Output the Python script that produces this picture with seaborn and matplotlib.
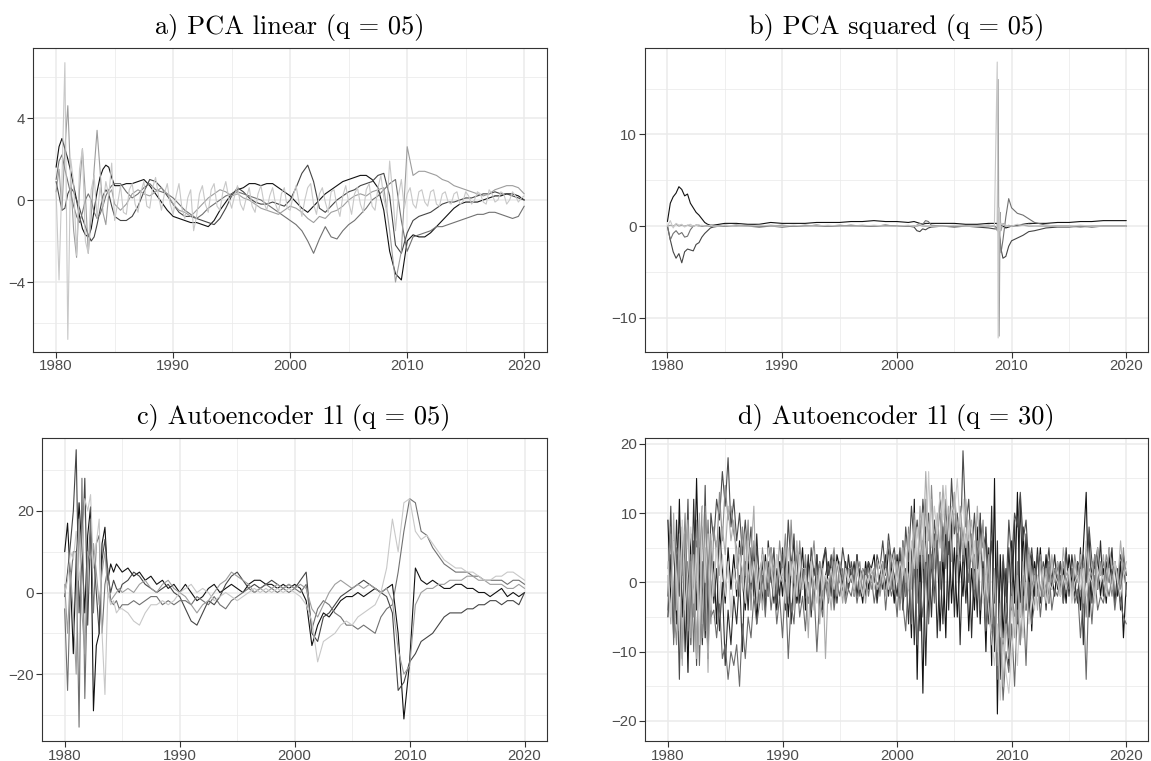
import numpy as np
import pandas as pd
import seaborn as sns
import matplotlib.pyplot as plt

# ===============================
# data
# early part: quarterly 1980-1985, late part: half-yearly 1985.5-2020
# ===============================

# a) PCA linear
a1_early = [1.6, 2.6, 3.0, 2.5, 2.0, 1.4, 0.7, 0.0, -0.8, -1.4, -1.7, -1.8, -1.4, -0.5, 0.4, 1.1, 1.5, 1.7, 1.6, 1.1, 0.7]
a1_late = [0.7, 0.8, 0.8, 0.9, 1.0, 0.7, 0.3, -0.1, -0.5, -0.8,
           -0.9, -1.0, -1.1, -1.1, -1.2, -1.3, -1.0, -0.5, -0.1, 0.3,
           0.5, 0.6, 0.8, 0.8, 0.7, 0.8, 0.8, 0.6, 0.4, 0.2,
           -0.1, -0.4, -0.6, -0.3, 0.0, 0.3, 0.5, 0.7, 0.9, 1.0,
           1.1, 1.2, 1.2, 1.0, 0.6, -0.5, -2.5, -3.6, -3.9, -2.0,
           -1.7, -1.8, -1.8, -1.6, -1.3, -1.0, -0.7, -0.4, -0.2, -0.1,
           -0.1, -0.1, 0.0, 0.1, 0.2, 0.2, 0.3, 0.3, 0.2, 0.0]
a2_early = [0.9, 0.2, -0.5, -0.4, 0.3, 0.6, 0.4, 0.0, -0.4, -0.9, -1.3, -1.7, -2.0, -1.8, -1.2, -0.5, 0.2, 0.5, 0.3, -0.3, -0.8]
a2_late = [-1.0, -1.0, -0.8, -0.3, 0.4, 1.0, 0.9, 0.6, 0.2, -0.2,
           -0.6, -0.8, -0.8, -0.9, -1.0, -1.1, -1.2, -0.9, -0.4, 0.2,
           0.6, 0.4, 0.1, -0.1, -0.2, -0.2, -0.1, -0.2, -0.3, 0.0,
           0.6, 1.3, 1.7, 0.9, -0.4, -0.6, -0.3, 0.0, 0.2, 0.4,
           0.5, 0.7, 0.8, 0.9, 1.2, 1.3, 0.2, -2.2, -2.6, -1.6,
           -1.0, -0.8, -0.7, -0.6, -0.4, -0.2, -0.1, -0.1, 0.0, 0.1,
           0.1, 0.2, 0.3, 0.3, 0.4, 0.3, 0.3, 0.2, 0.1, 0.0]
a3_early = [1.0, 1.9, 2.2, 1.5, 0.9, 0.3, -0.3, -0.8, -1.1, -0.6, 0.0, 0.3, 0.0, -0.6, -0.9, -0.7, -0.3, 0.2, 0.5, 0.7, 0.8]
a3_late = [0.8, 0.4, 0.1, 0.3, 0.6, 0.8, 0.5, 0.4, 0.3, 0.1,
           -0.2, -0.5, -0.7, -0.9, -0.7, -0.4, -0.2, 0.0, 0.2, 0.3,
           0.4, 0.3, 0.2, 0.1, 0.0, -0.2, -0.4, -0.6, -0.8, -1.0,
           -1.2, -1.5, -2.0, -2.6, -1.9, -1.3, -1.8, -1.9, -1.5, -1.2,
           -1.0, -0.7, -0.4, 0.0, 0.2, 0.5, 0.8, 1.0, -1.0, -2.5,
           -1.8, -1.7, -1.6, -1.5, -1.3, -1.3, -1.2, -1.1, -1.0, -0.9,
           -0.8, -0.7, -0.7, -0.6, -0.6, -0.7, -0.8, -0.9, -0.8, -0.3]
a4_early = [0.4, 1.5, -0.5, 2.5, 4.6, 1.0, -1.5, -2.8, 0.5, 2.5, 0.3, -2.6, -0.8, 1.5, 3.4, 1.5, -0.6, -1.2, 0.3, 0.5, -0.2]
a4_late = [-0.5, -0.2, 0.3, 0.5, 0.3, 0.2, 0.4, 0.6, 0.3, -0.2,
           -0.5, -0.6, -0.8, -0.5, -0.2, 0.1, 0.3, 0.5, 0.4, 0.2,
           0.3, 0.1, 0.0, -0.2, -0.4, -0.5, -0.6, -0.7, -0.5, -0.3,
           -0.4, -0.6, -0.9, -1.1, -0.8, -0.9, -0.6, -0.5, -0.3, 0.0,
           0.2, 0.3, 0.2, 0.4, 0.5, 0.6, -1.5, -4.0, -2.5, 2.6,
           1.2, 1.4, 1.4, 1.3, 1.2, 1.0, 0.9, 0.7, 0.6, 0.5,
           0.4, 0.3, 0.2, 0.3, 0.5, 0.6, 0.7, 0.7, 0.6, 0.3]
# quarterly 1980-2020
a5_q = [0.4, -3.9, 1.0, 6.7, -6.8, 2.0, 0.8, -2.7,
        1.5, 2.5, -2.0, -2.6, 0.5, 1.2, -0.9, 0.6,
        -0.3, 0.9, 0.2, 1.8, -1.0, -0.2, 0.7, -0.6,
        -0.7, 0.5, 0.8, -0.2, -0.6, 0.4, 0.9, -0.3,
        -0.4, 0.6, 1.1, 0.2, -0.5, 0.3, 0.8, -0.2,
        -0.7, 0.2, 0.8, -0.4, -0.9, 0.1, 0.5, -1.5,
        -0.8, 0.3, 0.7, -0.2, -0.6, 0.5, 0.8, -0.3,
        -0.5, 0.4, 0.9, 0.1, -0.4, 0.2, 0.7, -0.2,
        -0.5, 0.1, 0.6, -0.3, -0.6, 0.3, 0.7, -0.1,
        -0.5, 0.2, 0.6, -0.2, -0.6, 0.3, 0.6, -0.4,
        -0.5, 0.2, 0.7, -0.1, -0.8, 0.0, 0.6, 0.8,
        -0.2, -0.7, 0.3, 0.6, -0.1, -0.6, 0.4, 0.5,
        -0.3, -0.8, 0.2, 0.7, -0.1, -0.7, 0.3, 0.6,
        -0.2, -0.6, 0.5, 0.8, -0.3, -0.5, 0.6, 1.2,
        0.1, -0.6, 1.9, 0.4, -1.5, 0.2, 1.0, -0.4,
        0.3, 0.6, -0.2, -0.4, 0.4, 0.5, -0.1, -0.3,
        0.4, 0.5, -0.2, -0.3, 0.3, 0.4, -0.1, -0.2,
        0.3, 0.4, -0.2, -0.1, 0.4, 0.2, -0.2, 0.0,
        0.4, 0.3, -0.1, -0.2, 0.5, 0.3, -0.1, 0.0,
        0.4, 0.3, -0.2, 0.0, 0.4, 0.2, -0.1, 0.1,
        0.2]

# b) PCA squared, irregular dates (dense around the 2008 spike)
b_years = ([1980.0, 1980.25, 1980.5, 1980.75, 1981.0, 1981.25, 1981.5, 1981.75, 1982.0,
            1982.25, 1982.5, 1982.75, 1983.0, 1983.25, 1983.5, 1983.75, 1984.0, 1984.5]
           + [1985, 1986, 1987, 1988, 1989, 1990, 1991, 1992, 1993, 1994, 1995, 1996,
              1997, 1998, 1999, 2000, 2001]
           + [2001.5, 2001.75, 2002.0, 2002.25, 2002.5, 2002.75, 2003.0]
           + [2004, 2005, 2006, 2007, 2008, 2008.5]
           + [2008.75, 2008.83, 2008.92, 2009.0, 2009.08, 2009.25, 2009.5, 2009.75, 2010.0]
           + [2010.5, 2011, 2011.5, 2012, 2013, 2014, 2015, 2016, 2017, 2018, 2019, 2020])
b1 = ([0.5, 2.5, 3.2, 3.6, 4.3, 4.0, 3.3, 3.5, 2.5, 2.0, 1.5, 1.2, 0.8, 0.4, 0.2, 0.1, 0.1, 0.2]
      + [0.3, 0.3, 0.2, 0.2, 0.4, 0.3, 0.3, 0.3, 0.4, 0.4, 0.4, 0.5, 0.5, 0.6, 0.5, 0.5, 0.4]
      + [0.5, 0.4, 0.3, 0.2, 0.3, 0.3, 0.3]
      + [0.3, 0.3, 0.2, 0.2, 0.3, 0.3]
      + [0.3, -0.2, 0.2, 0.3, 0.1, 0.0, -0.2, -0.1, 0.0]
      + [0.1, 0.2, 0.3, 0.3, 0.3, 0.4, 0.4, 0.5, 0.5, 0.6, 0.6, 0.6])
b2 = ([0.0, -1.5, -2.8, -3.5, -3.0, -4.0, -2.8, -2.5, -2.6, -2.7, -2.0, -1.8, -1.2, -0.8, -0.5, -0.2, -0.1, 0.0]
      + [0.0, 0.1, 0.0, -0.1, 0.0, -0.1, 0.0, 0.0, 0.1, 0.0, 0.0, 0.1, 0.0, 0.0, 0.1, 0.0, 0.0]
      + [-0.1, -0.5, -0.6, -0.3, -0.4, -0.2, -0.1]
      + [0.0, -0.1, 0.0, -0.1, -0.2, -0.3]
      + [-0.3, -0.4, -0.8, -1.5, -2.5, -3.5, -3.3, -2.2, -1.6]
      + [-1.3, -1.0, -0.6, -0.5, -0.2, -0.1, -0.1, 0.0, -0.1, 0.0, 0.0, 0.0])
b3 = ([0.0, -1.5, -0.8, -0.5, -0.9, -0.7, -1.2, -1.1, -0.4, 0.0, 0.1, 0.1, 0.0, 0.0, 0.0, 0.0, 0.0, 0.0]
      + [0.1, 0.0, 0.1, 0.0, 0.0, 0.1, 0.0, 0.1, 0.0, 0.0, 0.1, 0.0, 0.0, 0.0, 0.1, 0.0, 0.0]
      + [0.0, 0.1, 0.3, 0.2, 0.6, 0.5, 0.1]
      + [0.0, 0.0, 0.0, 0.0, 0.1, 0.0]
      + [-0.2, -0.5, -1.0, -1.8, -2.9, -1.5, 1.0, 3.0, 2.0]
      + [1.4, 1.2, 0.8, 0.4, 0.1, 0.0, 0.0, -0.1, 0.0, 0.0, 0.0, 0.0])
b4 = ([0.0, 0.1, 0.0, 0.2, 0.0, 0.1, 0.0, 0.1, 0.0, 0.0, 0.1, 0.0, 0.0, 0.0, 0.1, 0.0, 0.0, 0.0]
      + [0.0, 0.1, 0.0, 0.0, 0.1, 0.0, 0.0, 0.0, 0.1, 0.0, 0.0, 0.0, 0.1, 0.0, 0.0, 0.0, 0.0]
      + [0.0, 0.0, 0.1, 0.0, 0.0, 0.0, 0.0]
      + [0.0, 0.0, 0.0, 0.0, 0.0, 0.0]
      + [-0.5, 16.0, -12.0, 1.5, -0.5, 0.3, 0.0, 0.1, 0.0]
      + [0.0, 0.1, 0.0, 0.0, 0.0, 0.0, 0.0, 0.0, 0.0, 0.0, 0.0, 0.0])
b5 = ([0.0, 0.6, -0.2, 0.3, 0.1, 0.2, -0.1, 0.1, 0.2, 0.0, 0.1, 0.0, 0.1, 0.0, 0.0, 0.1, 0.0, 0.0]
      + [0.1, 0.0, 0.0, 0.1, 0.0, 0.0, 0.1, 0.0, 0.0, 0.1, 0.0, 0.0, 0.0, 0.1, 0.0, 0.0, 0.1]
      + [0.0, 0.1, 0.2, 0.0, 0.1, 0.0, 0.0]
      + [0.0, 0.1, 0.0, 0.0, 0.1, 0.0]
      + [17.9, -12.2, 2.0, -0.5, 0.3, 0.2, 0.1, 0.0, 0.0]
      + [0.2, 0.1, 0.2, 0.0, 0.1, 0.0, 0.0, 0.1, 0.0, 0.0, 0.0, 0.0])

# c) Autoencoder 1l (q = 05)
c1_early = [10, 17, 3, -15, 8, 22, 10, -5, 14, 21, -29, -13, -10, 12, 16, 3, 7, 5, 7, 6, 5]
c1_late = [6, 4, 5, 3, 4, 2, 3, 1, 2, 0,
           2, 0, -2, -1, 1, 2, 0, 1, 2, 1,
           0, 2, 3, 3, 2, 2, 1, 2, 1, 2,
           1, -2, -13, -8, -5, -6, -4, -2, -1, -1,
           0, -1, 0, 1, 0, 1, 2, -10, -31, -17,
           6, 3, 2, 3, 2, 1, 1, 2, 2, 1,
           1, 0, 0, -1, 0, 1, -1, 0, -1, 0]
c2_early = [-1, 5, 12, 20, 35, -5, 8, 28, -8, 15, 10, 0, -10, 8, 13, 4, 0, 3, 1, 0, 2]
c2_late = [3, 5, 4, 2, 1, 0, 1, 2, 0, -1,
           -4, -7, -8, -5, -2, -3, -1, 2, 4, 5,
           3, 1, 2, 1, 2, 3, 2, 1, 2, 1,
           3, 5, -10, -12, -6, -5, -3, -1, 0, 1,
           2, 3, 2, 1, 0, -1, -5, -24, -22, -17,
           -15, -12, -11, -10, -8, -6, -5, -5, -5, -4,
           -4, -3, -3, -2, -2, -3, -2, -2, -3, 0]
c3_early = [-4, -24, 2, 10, 10, -33, 28, -26, 5, 18, -5, 12, 14, -10, 2, 6, -2, -3, -2, -4, -3]
c3_late = [-3, -2, -3, -2, -1, -1, -3, -2, -3, -2,
           -2, -3, -1, -2, -3, -1, -3, -4, -2, -1,
           0, 1, 0, 1, 2, 1, 0, 1, 0, 1,
           0, 2, -9, -4, -2, -3, -5, -6, -8, -8,
           -9, -8, -9, -10, -6, -4, -3, 5, 15, 23,
           22, 15, 14, 11, 9, 7, 6, 5, 5, 5,
           4, 4, 3, 3, 3, 3, 2, 3, 3, 2]
c4_early = [2, -10, 5, -5, -20, 18, -5, -15, 10, 8, 12, 5, -3, 5, 10, 0, -2, -1, 0, 1, 0]
c4_late = [1, 0, 2, 3, 1, 0, 2, 3, 1, 0,
           -1, -3, -5, -3, -2, 0, 2, 3, 5, 4,
           3, 2, 0, 1, 0, 1, 2, 1, 2, 1,
           2, 1, -4, -6, -3, 0, 2, 3, 2, 1,
           2, 1, 2, 1, 0, 1, -2, -14, -20, -18,
           -3, 0, 1, 1, 2, 2, 3, 3, 3, 4,
           4, 3, 3, 2, 2, 2, 1, 1, 2, 1]
c5_early = [0, 3, 10, 8, 15, 3, 10, 23, 20, 24, 6, 12, 18, -10, -25, 0, -3, -2, -5, -4, -4]
c5_late = [-5, -7, -8, -5, -3, -3, -2, -3, -2, 0,
           1, 2, 0, 1, 0, -2, -1, 0, -1, -2,
           -1, 0, 1, 0, 1, 0, 1, 0, 1, 0,
           -1, -3, -7, -17, -12, -11, -10, -8, -7, -8,
           -6, -5, -4, -3, 0, 6, 18, 10, 22, 23,
           15, 13, 14, 12, 10, 8, 7, 6, 6, 5,
           5, 4, 3, 3, 4, 4, 5, 5, 4, 3]

# d) Autoencoder 1l (q = 30), quarterly 1980-2020 (7 of the factors)
d1 = [9, -3, 6, -6, 12, -5, 4, -13, 7, -4, 15, -2, 11, -8, 5, -3,
      3, -6, 8, 2, -3, 5, -1, 4, -2, 6, 0, -4, 3, -1, 5, -6,
      2, -3, 4, -2, 5, 0, -4, 3, -2, 4, -5, 2, 6, -3, 0, 5,
      -4, 3, 1, -3, 4, -2, 2, 5, -1, 3, -3, 4, 2, -2, 3, -1,
      2, -2, 4, 0, -3, 3, -1, 2, 4, -2, 1, 3, -1, 5, 2, -3,
      4, -3, 6, -2, 3, -8, 12, -14, 5, -16, 8, -5, 3, -2, 6, -7,
      4, -8, 9, -3, 5, -5, 3, -2, 6, -7, 2, -4, 8, -6, 3, -10,
      5, -12, 15, -19, 4, -8, 2, -12, 6, -3, 13, -5, 8, -4, 2, -7,
      3, -1, 5, -2, 4, -3, 1, -2, 3, -1, 2, -3, 4, 0, -2, 3,
      -4, 5, 13, -5, 3, -1, 4, -2, 2, -3, 4, -1, 3, -2, 3, -8,
      0]
d6 = [-5, 4, -8, 9, -2, 6, -10, 3, -6, 12, -4, 5, -9, 2, -11, 6,
      -3, 2, -7, 0, -12, -4, -9, -2, -6, 1, -10, 3, -4, 5, -2, 7,
      -1, 3, -4, 6, 1, -3, 2, -2, 5, -4, 3, -6, 1, 4, -3, 2,
      -2, 4, -5, 2, 0, 3, -4, 1, 3, -2, 4, -3, 2, 0, -2, 4,
      0, 3, -2, 2, 1, -2, 3, 0, 2, -3, 1, -1, 4, -2, 3, 1,
      -2, 4, -4, 2, -6, 5, -9, 3, -7, 6, -12, 4, -5, 7, -8, 3,
      -6, 8, -4, 9, -5, 7, -9, 5, -3, 6, -8, 4, -5, 10, -2, 8,
      -6, 11, -10, 6, -14, 3, -7, 5, -4, 9, -6, 12, -3, 7, -5, 4,
      -2, 5, -3, 2, -4, 3, 0, 4, -1, 3, -3, 5, -2, 4, 0, -3,
      5, -9, 2, 7, -3, 4, -1, 6, -2, 3, 0, 5, -3, 2, -4, 4,
      1]
d2 = [-2, 11, -5, 4, -14, 8, -3, 12, -9, 6, -12, 9, -4, 14, -7, 10,
      6, 12, 9, 16, 11, 18, 8, 12, 6, 10, 4, 9, 3, 8, -1, 5,
      1, 4, -2, 3, 0, 5, -3, 2, 4, -1, 9, 2, 7, -2, 5, 0,
      3, -3, 5, 1, 4, -2, 3, 5, 1, 4, -2, 3, 0, 5, 2, -1,
      3, 0, 4, -2, 2, 1, 3, 2, 0, 4, 2, 6, 1, 7, 3, 5,
      1, 5, -2, 8, 3, 11, 5, 9, 3, 12, 6, 10, 2, 9, 4, 13,
      6, 11, 4, 15, 7, 10, 3, 19, 8, 12, 4, 10, 2, 9, 5, 7,
      1, 6, -3, 2, -6, 4, -2, 9, 3, 10, 8, 13, 6, 9, 2, 5,
      0, 4, -2, 3, 1, 5, -1, 2, 0, 3, -2, 4, 1, 2, -1, 3,
      2, 4, 0, 8, 3, 2, 5, 1, 3, 0, 5, 1, 3, -1, 4, 2,
      -1]
d3 = [-4, 8, -9, 5, 3, -11, 7, -6, 4, -10, 6, -12, 3, -7, 9, -5,
      -4, -8, -3, -11, -9, -14, -10, -12, -9, -15, -6, -11, -5, -8, -2, -6,
      -3, 1, -5, 2, -4, 0, -6, -2, -8, 0, -11, -3, -6, 1, -5, -2,
      -7, 0, -4, -1, -10, -2, -5, 0, -3, 1, -4, 0, -2, 2, -3, -1,
      -2, 1, -3, 0, -1, 2, -2, 1, -3, 0, -1, 2, -4, 1, -2, 0,
      -5, 2, -3, -7, 1, -6, 3, -9, 0, -5, 2, -6, 4, -3, 6, -1,
      8, 2, 10, 4, 12, 6, 9, 3, 7, 0, 5, -2, 4, -4, 2, -7,
      -3, -9, -5, -14, -8, -17, -10, -13, -6, -15, -4, -9, -2, -12, 0, -6,
      -3, 1, -5, 0, -2, 2, -4, -1, -2, 1, -3, 0, -1, 2, -3, -1,
      -8, -2, -14, 0, -6, 1, -4, -2, -3, 0, -2, 1, -4, 0, -3, -5,
      -6]
d7 = [2, 7, -3, -9, 5, 1, 10, -7, 3, -5, 9, -2, -8, 11, 1, -6,
      8, 4, 13, 6, 14, 9, 11, 7, 5, -2, 8, 1, 9, -4, 6, 2,
      -3, 5, 0, -2, 4, 2, -1, 6, 1, 7, -3, 9, 0, -2, 6, -1,
      4, -3, 2, 6, -1, 3, -2, 1, -2, 2, 5, -1, 3, 1, -3, 2,
      2, -1, 1, 3, -2, 0, 2, -1, 1, 3, -2, 1, 2, 6, -1, 4,
      2, -4, 6, -2, 8, 1, 10, -3, 9, 2, 12, -1, 14, 5, 8, 10,
      3, 12, 7, 9, 13, 4, 11, 6, 10, 2, 7, -1, 6, 3, 9, -4,
      3, -7, 1, -12, -5, -10, -3, -8, 0, -6, 3, -9, 1, -4, 5, -1,
      2, -2, 4, 1, -1, 3, 0, 2, 1, -2, 3, 0, 2, -1, 4, 1,
      -2, 3, -5, 2, 1, 4, -1, 3, 0, 4, 1, -2, 3, 1, -1, 5,
      -2]
d4 = [1, -6, 10, -4, 7, -12, 3, 9, -8, 4, -11, 10, -6, 5, -13, 7,
      -2, 6, 1, 8, 4, 11, 6, 9, 2, 5, -1, 7, 0, 4, 11, -3,
      2, -4, 3, 0, 5, -1, 4, 1, 0, 5, -2, 3, -4, 6, -1, 2,
      2, -8, 3, -4, 1, -6, 2, -11, 0, -4, 3, -2, 1, -3, 2, 0,
      1, -2, 3, -1, 2, -3, 1, 0, 2, -1, 0, 3, -2, 1, 4, -1,
      3, -2, 5, 0, 7, -1, 9, 2, 11, 4, 16, 6, 12, 2, 10, 5,
      14, 7, 11, 3, 13, 8, 10, 4, 12, 6, 9, 2, 11, 3, 7, -1,
      4, -6, 2, -10, -3, -15, -6, -11, -2, -8, 1, -5, 3, -3, 4, -2,
      1, -4, 3, -2, 2, -3, 4, 0, 3, -2, 5, 1, 2, -2, 3, 0,
      4, -3, 6, 0, 3, -2, 5, 1, 4, -1, 5, 2, 3, 0, 6, 1,
      3]
d5 = [3, -5, 6, 1, -7, 9, -4, 2, 8, -3, 5, -9, 11, 0, 7, -4,
      1, 5, -3, 4, -2, 3, -5, 2, -1, 4, 2, -3, 6, 0, 3, -2,
      1, 4, -1, 5, 2, -2, 4, 0, 2, -3, 5, 1, 3, -2, 4, -1,
      1, -2, 3, 0, -3, 2, -1, 1, 0, 2, -1, 3, 1, -2, 2, 0,
      1, -1, 2, 0, -2, 1, 0, 2, -1, 1, 3, 0, 2, -1, 1, 3,
      0, 3, 1, 5, -1, 6, 2, 8, 4, 10, 3, 16, 5, 11, 7, 13,
      9, 14, 6, 11, 10, 15, 8, 12, 5, 9, 3, 6, 0, 4, -3, 1,
      -4, -8, -12, -6, -17, -9, -13, -16, -10, -5, -12, -3, -8, 0, -6, -2,
      -4, 1, -2, 2, -3, 0, -1, 1, 0, -2, 1, -1, 2, -3, 0, 1,
      -1, 2, -2, 1, 0, -3, 2, 0, 1, -2, 2, -1, 3, 0, -2, 1,
      2]

titles = ["a) PCA linear (q = 05)", "b) PCA squared (q = 05)",
          "c) Autoencoder 1l (q = 05)", "d) Autoencoder 1l (q = 30)"]
greys5 = ["#111111", "#454545", "#717171", "#9d9d9d", "#c8c8c8"]
greys7 = ["#111111", "#2e2e2e", "#4b4b4b", "#6b6b6b", "#8b8b8b", "#ababab", "#cbcbcb"]


def mix_years(early, late):
    return list(1980 + 0.25 * np.arange(len(early))) + list(1985.5 + 0.5 * np.arange(len(late)))


def quarterly(vals):
    return list(1980 + 0.25 * np.arange(len(vals)))


def frame(pairs):
    parts = []
    for k, (yrs, vals) in enumerate(pairs):
        parts.append(pd.DataFrame({"year": yrs, "value": vals, "series": f"f{k + 1}"}))
    return pd.concat(parts, ignore_index=True)


df_a = frame([(mix_years(a1_early, a1_late), a1_early + a1_late),
              (mix_years(a2_early, a2_late), a2_early + a2_late),
              (mix_years(a3_early, a3_late), a3_early + a3_late),
              (mix_years(a4_early, a4_late), a4_early + a4_late),
              (quarterly(a5_q), a5_q)])
df_b = frame([(b_years, b1), (b_years, b2), (b_years, b3), (b_years, b4), (b_years, b5)])
df_c = frame([(mix_years(c1_early, c1_late), c1_early + c1_late),
              (mix_years(c2_early, c2_late), c2_early + c2_late),
              (mix_years(c3_early, c3_late), c3_early + c3_late),
              (mix_years(c4_early, c4_late), c4_early + c4_late),
              (mix_years(c5_early, c5_late), c5_early + c5_late)])
df_d = frame([(quarterly(v), v) for v in (d1, d6, d2, d3, d7, d4, d5)])

sns.set_theme(style="white")
plt.rcParams["font.family"] = ["Liberation Sans", "DejaVu Sans"]

W, H = 1151, 761
fig = plt.figure(figsize=(W / 100, H / 100), dpi=100)

# axes boxes in pixels: left, top, right, bottom
boxes = [(32.7, 48.3, 546.7, 351.7), (644.5, 48.3, 1148.3, 351.7),
         (41.7, 438.3, 546.7, 741.0), (645.0, 438.3, 1148.3, 741.0)]
ylims = [(-7.4, 7.4), (-13.7, 19.4), (-36.4, 37.8), (-22.9, 20.8)]
ymajor = [[-4, 0, 4], [-10, 0, 10], [-20, 0, 20], [-20, -10, 0, 10, 20]]
yminor = [[-6, -2, 2, 6], [-5, 5, 15], [-30, -10, 10, 30], [-15, -5, 5, 15]]
palettes = [greys5, greys5, greys5, greys7]

for i, df in enumerate([df_a, df_b, df_c, df_d]):
    l, t, r, b = boxes[i]
    ax = fig.add_axes([l / W, 1 - b / H, (r - l) / W, (b - t) / H])
    sns.lineplot(data=df, x="year", y="value", hue="series", palette=palettes[i],
                 estimator=None, sort=False, legend=False, linewidth=0.8, ax=ax)
    ax.set_xlim(1978.0, 2021.92)
    ax.set_ylim(*ylims[i])
    ax.set_xticks([1980, 1990, 2000, 2010, 2020])
    ax.set_xticks([1985, 1995, 2005, 2015], minor=True)
    ax.set_yticks(ymajor[i])
    ax.set_yticks(yminor[i], minor=True)
    ax.grid(which="major", color="#EBEBEB", linewidth=1.1)
    ax.grid(which="minor", color="#EBEBEB", linewidth=0.55)
    ax.set_axisbelow(True)
    ax.tick_params(which="major", bottom=True, left=True, length=4, width=0.8,
                   color="#333333", labelcolor="#4D4D4D", labelsize=10.8, pad=1.5)
    ax.tick_params(which="minor", length=0)
    for s in ax.spines.values():
        s.set_visible(True)
        s.set_color("#333333")
        s.set_linewidth(0.8)
    ax.set_xlabel("")
    ax.set_ylabel("")
    ax.set_title(titles[i], fontfamily="cmr10", fontsize=19, pad=10.5, color="black")

fig.savefig("out.png", dpi=100)
